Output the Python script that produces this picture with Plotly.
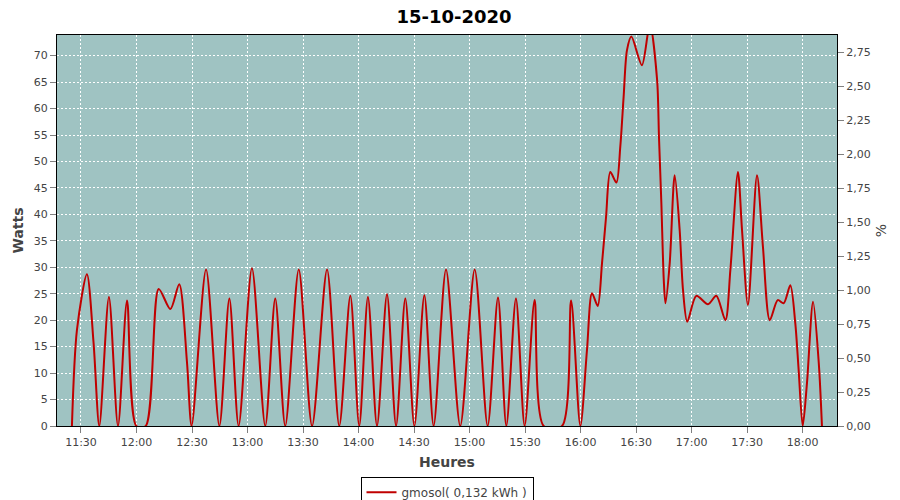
import plotly.graph_objects as go

DAY = "2020-10-15 "
times = [
    "11:25:06", "11:27:48", "11:33:12", "11:36:48", "11:39:54", "11:45:06", "11:50:00", "11:54:54",
    "11:59:54", "12:05:00", "12:12:00", "12:18:18", "12:23:06", "12:27:18", "12:29:48", "12:37:36",
    "12:44:48", "12:50:12", "12:55:12", "13:02:24", "13:09:36", "13:15:00", "13:20:24", "13:27:42",
    "13:34:54", "13:43:00", "13:49:36", "13:55:36", "14:00:24", "14:05:06", "14:10:00", "14:15:24",
    "14:20:18", "14:25:18", "14:30:12", "14:35:36", "14:40:36", "14:47:18", "14:55:00", "15:02:48",
    "15:09:48", "15:15:24", "15:19:54", "15:25:06", "15:29:48", "15:35:12", "15:40:06", "15:50:00",
    "15:54:54", "15:59:54", "16:03:30", "16:06:12", "16:09:18", "16:11:36", "16:13:48", "16:16:06",
    "16:19:24", "16:21:30", "16:23:18", "16:25:06", "16:27:30", "16:33:12", "16:37:30", "16:41:24",
    "16:42:24", "16:43:42", "16:45:00", "16:45:54", "16:48:12", "16:50:54", "16:53:36", "16:55:24",
    "16:57:42", "17:02:36", "17:08:54", "17:13:24", "17:18:18", "17:21:00", "17:25:06", "17:27:18",
    "17:30:30", "17:35:24", "17:38:36", "17:42:18", "17:46:36", "17:49:48", "17:53:24", "17:56:06",
    "17:57:54", "18:00:06", "18:02:24", "18:05:42", "18:08:48", "18:10:30",
]
watts = [
    0, 18.1, 28.7, 15.7, 0, 24.4, 0, 23.7,
    0, 0, 25.9, 22.1, 26.8, 12.0, 0, 29.6,
    0, 24.1, 0, 29.8, 0, 24.1, 0, 29.6,
    0, 29.6, 0, 24.6, 0, 24.4, 0, 24.9,
    0, 24.1, 0, 24.7, 0, 29.6, 0, 29.6,
    0, 24.3, 0, 24.1, 0, 23.8, 0, 0,
    23.7, 0, 14.4, 25.1, 22.7, 30.7, 39.5, 48.0,
    46.0, 52.8, 62.2, 71.0, 73.6, 68.2, 76.0, 65.4,
    54.7, 42.1, 27.6, 23.2, 30.7, 47.4, 37.0, 25.7,
    19.7, 24.6, 23.0, 24.6, 20.0, 29.5, 48.0, 37.0,
    22.9, 47.4, 33.9, 20.0, 23.8, 23.2, 26.6, 19.4,
    10.6, 0, 8.1, 23.5, 11.8, 0,
]
series_name = "gmosol( 0,132 kWh )"
title_text = "15-10-2020"
watts_max = 73.9
pct_max = 2.877

x = [DAY + t for t in times]
pct = [w * pct_max / watts_max for w in watts]

fig = go.Figure()
fig.add_trace(go.Scatter(
    x=x, y=watts, mode="lines", name=series_name,
    line=dict(color="#c00000", width=2, shape="spline", smoothing=0.8),
))
fig.add_trace(go.Scatter(
    x=x, y=pct, mode="lines", yaxis="y2", showlegend=False,
    line=dict(color="rgba(0,0,0,0)", width=0), hoverinfo="skip",
))

grey = "#808080"
tickfont = dict(family="DejaVu Sans", size=11, color="#444444")
labfont = dict(family="DejaVu Sans", size=14, color="#444444")

# the page body adds an 8px offset, so the canvas is 892x492 and shifted up-left
fig.update_layout(
    width=892, height=492,
    margin=dict(l=49, r=63, t=27, b=74, autoexpand=False),
    paper_bgcolor="white", plot_bgcolor="#9fc3c2",
    separators=", ",
    title=dict(text="<b>" + title_text + "</b>", x=0.5, xanchor="center", y=1.0, yanchor="top",
               pad=dict(t=2, b=0), font=dict(family="DejaVu Sans", size=18, color="black")),
    xaxis=dict(
        type="date", range=[DAY + "11:17:02", DAY + "18:18:38"], automargin=False,
        tick0=DAY + "11:30:00", dtick=1800000, tickformat="%H:%M",
        showgrid=True, gridcolor="white", griddash="2px,2px", gridwidth=1,
        ticks="outside", ticklen=6, tickcolor=grey, tickfont=tickfont,
        showline=True, linecolor="black", linewidth=1, mirror=True,
        title=dict(text="<b>Heures</b>", font=labfont, standoff=8),
        zeroline=False,
    ),
    yaxis=dict(
        range=[0, watts_max], dtick=5, tick0=0, automargin=False,
        showgrid=True, gridcolor="white", griddash="2px,2px", gridwidth=1,
        ticks="outside", ticklen=6, tickcolor=grey, tickfont=tickfont,
        showline=True, linecolor="black", linewidth=1, mirror=True,
        title=dict(text="<b>Watts</b>", font=labfont, standoff=6),
        zeroline=False,
    ),
    yaxis2=dict(
        overlaying="y", side="right", range=[0, pct_max], dtick=0.25, tick0=0, automargin=False,
        tickformat=".2f", showgrid=False, zeroline=False,
        ticks="outside", ticklen=6, tickcolor=grey, tickfont=tickfont,
        title=dict(text="%", font=dict(family="DejaVu Sans", size=14, color="#444444"), standoff=6),
    ),
    legend=dict(
        orientation="h", x=0.5, xanchor="center", y=-0.13, yanchor="top",
        bordercolor="black", borderwidth=1, bgcolor="white",
        font=dict(family="DejaVu Sans", size=12, color="#444444"),
    ),
    showlegend=True,
)

fig.write_html("out.html")
